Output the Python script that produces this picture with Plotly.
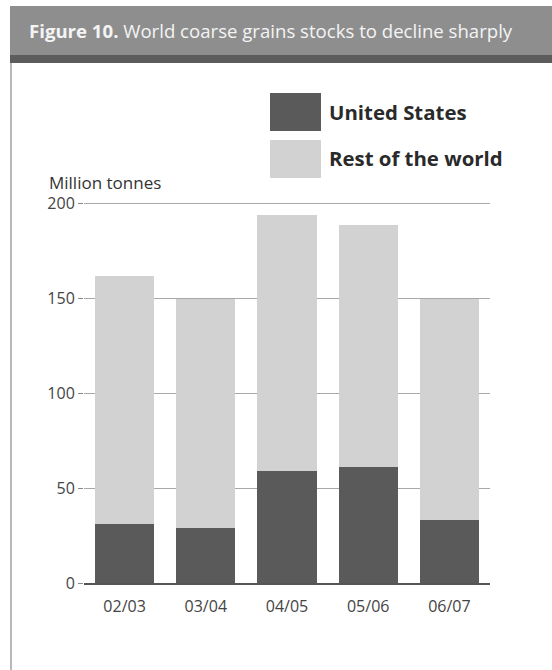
import plotly.graph_objects as go

categories = ["02/03", "03/04", "04/05", "05/06", "06/07"]
us_stocks = [31, 29, 59, 61, 33]
total_stocks = [162, 150, 194, 189, 150]
rest_of_world = [t - u for t, u in zip(total_stocks, us_stocks)]
y_ticks = [0, 50, 100, 150, 200]

W, H = 552, 670
L, R = 84, 490      # plot area x extent (px)
T, B = 200, 583     # plot area y extent (px)

def px(x):
    return (x - L) / (R - L)

def py(y):
    return (B - y) / (B - T)

DARK = "#5a5a5a"
LIGHT = "#d2d2d2"
FONT = "Open Sans, Noto Sans, sans-serif"

fig = go.Figure()
fig.add_trace(go.Bar(x=categories, y=us_stocks, name="United States",
                     marker=dict(color=DARK, line=dict(width=0)), showlegend=False))
fig.add_trace(go.Bar(x=categories, y=rest_of_world, name="Rest of the world",
                     marker=dict(color=LIGHT, line=dict(width=0)), showlegend=False))

shapes = [
    # title bar
    dict(type="rect", xref="paper", yref="paper", x0=px(10), x1=px(560), y0=py(55), y1=py(6),
         fillcolor="#8e8e8e", line=dict(width=0), layer="below"),
    dict(type="rect", xref="paper", yref="paper", x0=px(10), x1=px(560), y0=py(63), y1=py(55),
         fillcolor="#5c5c5c", line=dict(width=0), layer="below"),
    # panel left border
    dict(type="line", xref="paper", yref="paper", x0=px(11), x1=px(11), y0=py(63), y1=py(680),
         line=dict(color="#b8b8b8", width=2)),
    # legend swatches
    dict(type="rect", xref="paper", yref="paper", x0=px(270), x1=px(321), y0=py(131), y1=py(93),
         fillcolor=DARK, line=dict(width=0)),
    dict(type="rect", xref="paper", yref="paper", x0=px(270), x1=px(321), y0=py(178), y1=py(140),
         fillcolor=LIGHT, line=dict(width=0)),
]

annotations = [
    dict(text="<b>Figure 10.</b> World coarse grains stocks to decline sharply",
         xref="paper", yref="paper", x=px(27), y=py(30), xanchor="left", yanchor="middle",
         showarrow=False, font=dict(family=FONT, size=18.6, color="#f4f4f4")),
    dict(text="<b>United States</b>", xref="paper", yref="paper", x=px(327), y=py(112),
         xanchor="left", yanchor="middle", showarrow=False,
         font=dict(family=FONT, size=20.4, color="#2a2a2a")),
    dict(text="<b>Rest of the world</b>", xref="paper", yref="paper", x=px(327), y=py(158),
         xanchor="left", yanchor="middle", showarrow=False,
         font=dict(family=FONT, size=20.4, color="#2a2a2a")),
    dict(text="Million tonnes", xref="paper", yref="paper", x=px(47), y=py(183),
         xanchor="left", yanchor="middle", showarrow=False,
         font=dict(family=FONT, size=17, color="#333333")),
]

fig.update_layout(
    width=W, height=H,
    margin=dict(l=L, r=W - R, t=T, b=H - B, pad=0),
    paper_bgcolor="white", plot_bgcolor="white",
    barmode="stack", bargap=0.27,
    shapes=shapes, annotations=annotations,
    font=dict(family=FONT, size=16, color="#333333"),
    xaxis=dict(range=[-0.5, 4.5], showgrid=False, showline=True, linecolor="#555555",
               linewidth=1.5, ticks="", ticklabelstandoff=8,
               tickfont=dict(size=16, color="#444444"), fixedrange=True),
    yaxis=dict(range=[0, 202], tickvals=y_ticks, showgrid=True, gridcolor="#a8a8a8",
               gridwidth=1, zeroline=False, showline=False, ticks="outside", ticklen=5,
               tickcolor="#888888", tickfont=dict(size=16, color="#444444"),
               fixedrange=True),
)

fig.write_html("out.html")
